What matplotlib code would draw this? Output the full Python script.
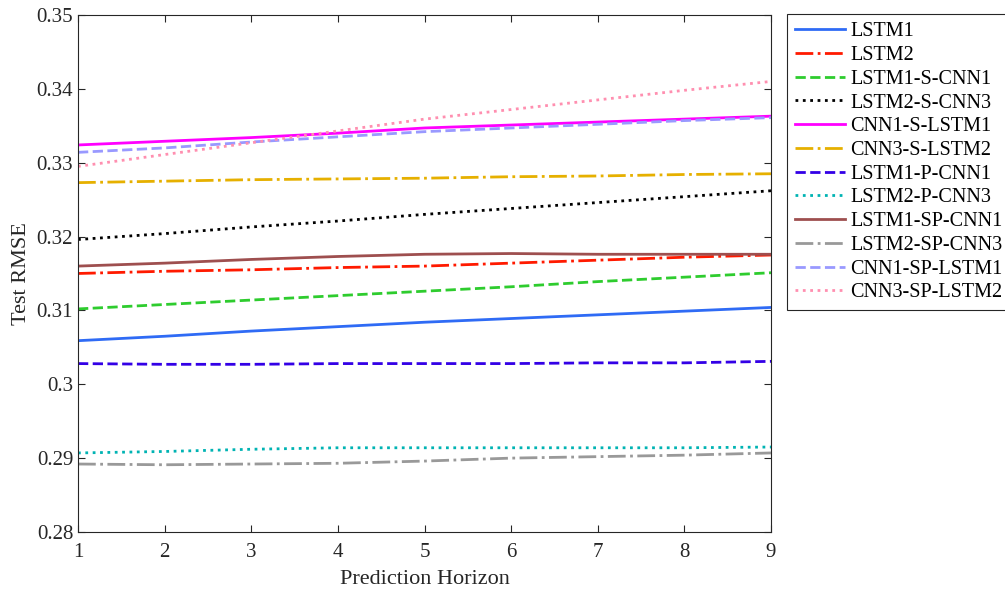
# Test RMSE vs prediction horizon for the hybrid models

import matplotlib
matplotlib.use('Agg')
import matplotlib.pyplot as plt
import numpy as np

plt.rcParams['font.family'] = ['Liberation Serif', 'DejaVu Serif']

# Data
horizon = [1, 2, 3, 4, 5, 6, 7, 8, 9]
lstm1 = [0.3059, 0.3065, 0.3072, 0.3078, 0.3084, 0.3089, 0.3094, 0.3099, 0.3104]
lstm2 = [0.3150, 0.3153, 0.3155, 0.3158, 0.3160, 0.3164, 0.3168, 0.3172, 0.3175]
lstm1_s_cnn1 = [0.3102, 0.3108, 0.3114, 0.3120, 0.3126, 0.3132, 0.3139, 0.3145, 0.3151]
lstm2_s_cnn3 = [0.3196, 0.3204, 0.3213, 0.3221, 0.3230, 0.3238, 0.3246, 0.3254, 0.3262]
cnn1_s_lstm1 = [0.3324, 0.3329, 0.3334, 0.3340, 0.3347, 0.3351, 0.3355, 0.3359, 0.3363]
cnn3_s_lstm2 = [0.3273, 0.3275, 0.3277, 0.3278, 0.3279, 0.3281, 0.3282, 0.3284, 0.3285]
lstm1_p_cnn1 = [0.3028, 0.3027, 0.3027, 0.3028, 0.3028, 0.3028, 0.3029, 0.3029, 0.3031]
lstm2_p_cnn3 = [0.2907, 0.2909, 0.2912, 0.2914, 0.2914, 0.2914, 0.2914, 0.2914, 0.2915]
lstm1_sp_cnn1 = [0.3160, 0.3164, 0.3169, 0.3173, 0.3176, 0.3177, 0.3176, 0.3176, 0.3176]
lstm2_sp_cnn3 = [0.2892, 0.2891, 0.2892, 0.2893, 0.2896, 0.2900, 0.2902, 0.2904, 0.2907]
cnn1_sp_lstm1 = [0.3314, 0.3320, 0.3328, 0.3335, 0.3342, 0.3347, 0.3352, 0.3357, 0.3361]
cnn3_sp_lstm2 = [0.3295, 0.3311, 0.3327, 0.3343, 0.3359, 0.3372, 0.3385, 0.3398, 0.3410]

series = [
    ('LSTM1', lstm1, '#2f6bf5', '-'),
    ('LSTM2', lstm2, '#ff1a00', '-.'),
    ('LSTM1-S-CNN1', lstm1_s_cnn1, '#2ecc2e', '--'),
    ('LSTM2-S-CNN3', lstm2_s_cnn3, '#000000', ':'),
    ('CNN1-S-LSTM1', cnn1_s_lstm1, '#ff00ff', '-'),
    ('CNN3-S-LSTM2', cnn3_s_lstm2, '#e6b000', '-.'),
    ('LSTM1-P-CNN1', lstm1_p_cnn1, '#3300e6', '--'),
    ('LSTM2-P-CNN3', lstm2_p_cnn3, '#00b3b3', ':'),
    ('LSTM1-SP-CNN1', lstm1_sp_cnn1, '#9e4f4f', '-'),
    ('LSTM2-SP-CNN3', lstm2_sp_cnn3, '#999999', '-.'),
    ('CNN1-SP-LSTM1', cnn1_sp_lstm1, '#9999ff', '--'),
    ('CNN3-SP-LSTM2', cnn3_sp_lstm2, '#ff8fb0', ':'),
]

fig = plt.figure(figsize=(10.05, 5.92), dpi=100)
ax = fig.add_axes([0.0776, 0.1014, 0.6896, 0.8733])

for name, vals, col, ls in series:
    ax.plot(horizon, vals, color=col, linestyle=ls, linewidth=2, label=name)

ax.set_xlim(1, 9)
ax.set_ylim(0.28, 0.35)
ax.set_xticks(horizon)
yt = np.arange(0.28, 0.3501, 0.01)
ax.set_yticks(yt)
ax.set_yticklabels(['0.28', '0.29', '0.3', '0.31', '0.32', '0.33', '0.34', '0.35'])
ax.tick_params(direction='in', top=True, right=True, labelsize=15,
               length=5, width=0.8, colors='#262626', labelcolor='#262626')
ax.tick_params(axis='x', pad=8)
for s in ax.spines.values():
    s.set_color('#262626')
    s.set_linewidth(0.8)

ax.set_xlabel('Prediction Horizon', fontsize=16, color='#262626', labelpad=6)
ax.set_ylabel('Test RMSE', fontsize=16, color='#262626', labelpad=4)

leg = ax.legend(loc='upper left', bbox_to_anchor=(1.0225, 1.0015), fontsize=14.5,
                handlelength=2.5, handletextpad=0.25, labelspacing=0.23,
                borderpad=0.4, borderaxespad=0.0, fancybox=False, framealpha=1)
leg.get_frame().set_edgecolor('#262626')
leg.get_frame().set_linewidth(0.8)

plt.savefig('out.png', dpi=100)
